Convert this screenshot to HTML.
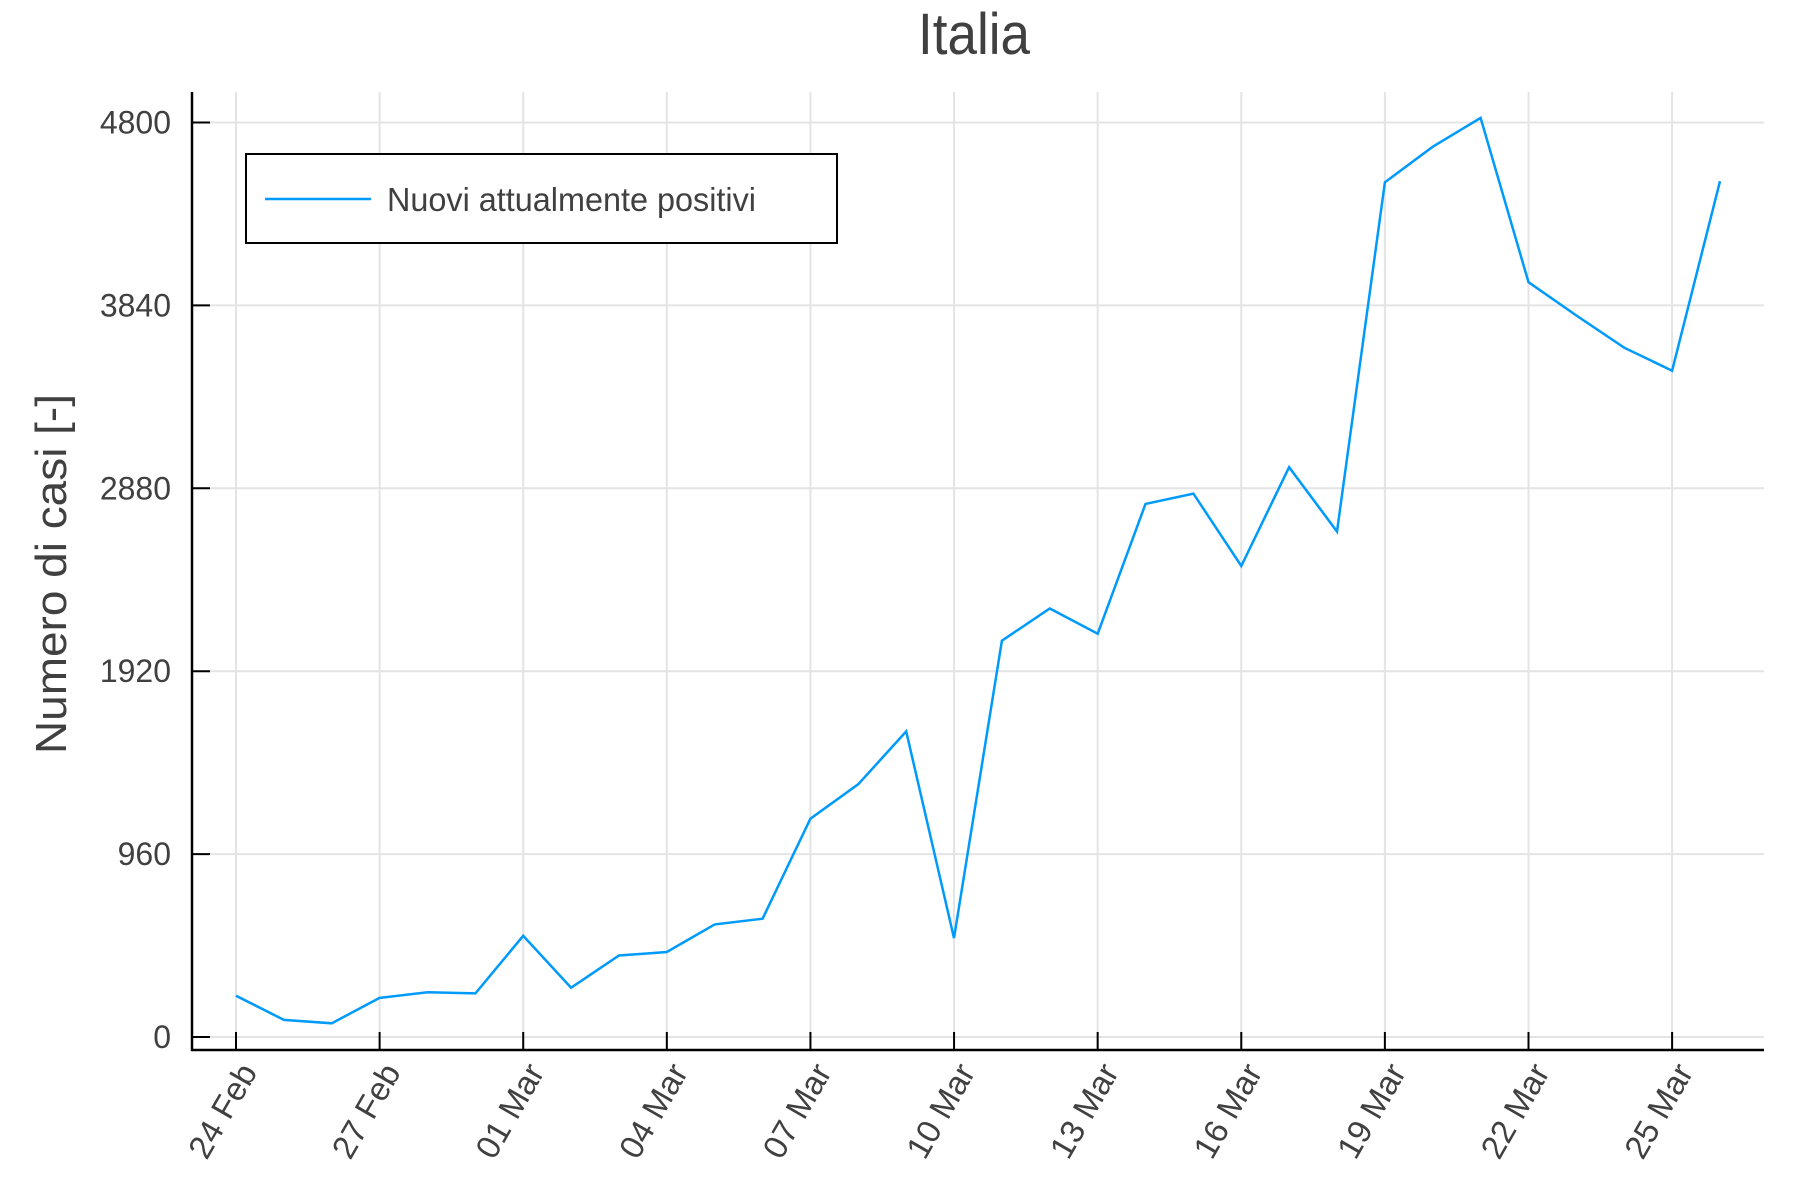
<!DOCTYPE html>
<html>
<head>
<meta charset="utf-8">
<style>
html,body{margin:0;padding:0;background:#fff;}
svg{display:block;font-family:"Liberation Sans",sans-serif;}
</style>
</head>
<body>
<svg id="chart" width="1800" height="1200" viewBox="0 0 1800 1200">
  <text x="974" y="54" text-anchor="middle" font-size="58" fill="#404040" textLength="112" lengthAdjust="spacingAndGlyphs">Italia</text>
  <g id="grid"></g>
  <g id="axes"></g>
  <g id="series"></g>
  <text transform="translate(66,574) rotate(-90)" text-anchor="middle" font-size="44" fill="#404040" textLength="360" lengthAdjust="spacingAndGlyphs">Numero di casi [-]</text>
  <g>
    <rect x="246" y="154" width="591" height="89" fill="#fff" stroke="#000" stroke-width="2"/>
    <line x1="265" y1="199" x2="371" y2="199" stroke="#009AFA" stroke-width="2.5"/>
    <text x="387" y="211" font-size="33" fill="#404040" textLength="369" lengthAdjust="spacingAndGlyphs">Nuovi attualmente positivi</text>
  </g>
</svg>
<script>
const dayLabels = ["24 Feb","25 Feb","26 Feb","27 Feb","28 Feb","29 Feb","01 Mar","02 Mar","03 Mar","04 Mar","05 Mar","06 Mar","07 Mar","08 Mar","09 Mar","10 Mar","11 Mar","12 Mar","13 Mar","14 Mar","15 Mar","16 Mar","17 Mar","18 Mar","19 Mar","20 Mar","21 Mar","22 Mar","23 Mar","24 Mar","25 Mar","26 Mar"];
const values = [217,90,72,205,235,229,531,259,428,446,591,621,1146,1327,1604,519,2080,2249,2117,2798,2852,2472,2991,2653,4486,4673,4824,3962,3787,3618,3497,4492];
const yTicks = [0,960,1920,2880,3840,4800];
const xTickEvery = 3;

const NS = "http://www.w3.org/2000/svg";
const plotLeft = 192, plotRight = 1764, plotTop = 92, plotBottom = 1050;
function xScale(i){ return 236 + i * 47.87; }
function yScale(v){ return 1037 - v * (914.5 / 4800); }
function mk(tag, attrs, parent){
  const e = document.createElementNS(NS, tag);
  for (const k in attrs) e.setAttribute(k, attrs[k]);
  parent.appendChild(e);
  return e;
}
const gridG = document.getElementById('grid');
const axesG = document.getElementById('axes');
const seriesG = document.getElementById('series');

yTicks.forEach(v => {
  const y = yScale(v);
  const g = mk('line', {x1:plotLeft, x2:plotRight, y1:y, y2:y, stroke:'#e4e4e4', 'stroke-width':2}, gridG);
  
  
  const t = mk('line', {x1:plotLeft, x2:plotLeft+18, y1:y, y2:y, stroke:'#000', 'stroke-width':2}, axesG);
  
  
  const l = mk('text', {x:171, y:y+11, 'text-anchor':'end', 'font-size':32, fill:'#404040'}, axesG);
  l.textContent = String(v);
  
  
});

for (let i = 0; i < dayLabels.length; i += xTickEvery) {
  const x = xScale(i);
  const g = mk('line', {x1:x, x2:x, y1:plotTop, y2:plotBottom, stroke:'#e4e4e4', 'stroke-width':2}, gridG);
  
  
  const t = mk('line', {x1:x, x2:x, y1:plotBottom, y2:plotBottom-18, stroke:'#000', 'stroke-width':2}, axesG);
  
  
  const l = mk('text', {transform:'translate(' + (x+22) + ',' + (plotBottom+22) + ') rotate(-60)', 'text-anchor':'end', 'font-size':33, fill:'#404040'}, axesG);
  l.textContent = dayLabels[i];
  
  
}

const ya = mk('line', {x1:plotLeft, x2:plotLeft, y1:plotTop, y2:plotBottom+1, stroke:'#000', 'stroke-width':2.5}, axesG);


const xa = mk('line', {x1:plotLeft-1, x2:plotRight, y1:plotBottom, y2:plotBottom, stroke:'#000', 'stroke-width':2.5}, axesG);



const pts = values.map((v, i) => xScale(i).toFixed(1) + ',' + yScale(v).toFixed(1)).join(' ');
const line = mk('polyline', {points:pts, fill:'none', stroke:'#009AFA', 'stroke-width':2.5, 'stroke-linejoin':'miter'}, seriesG);


</script>
</body>
</html>
